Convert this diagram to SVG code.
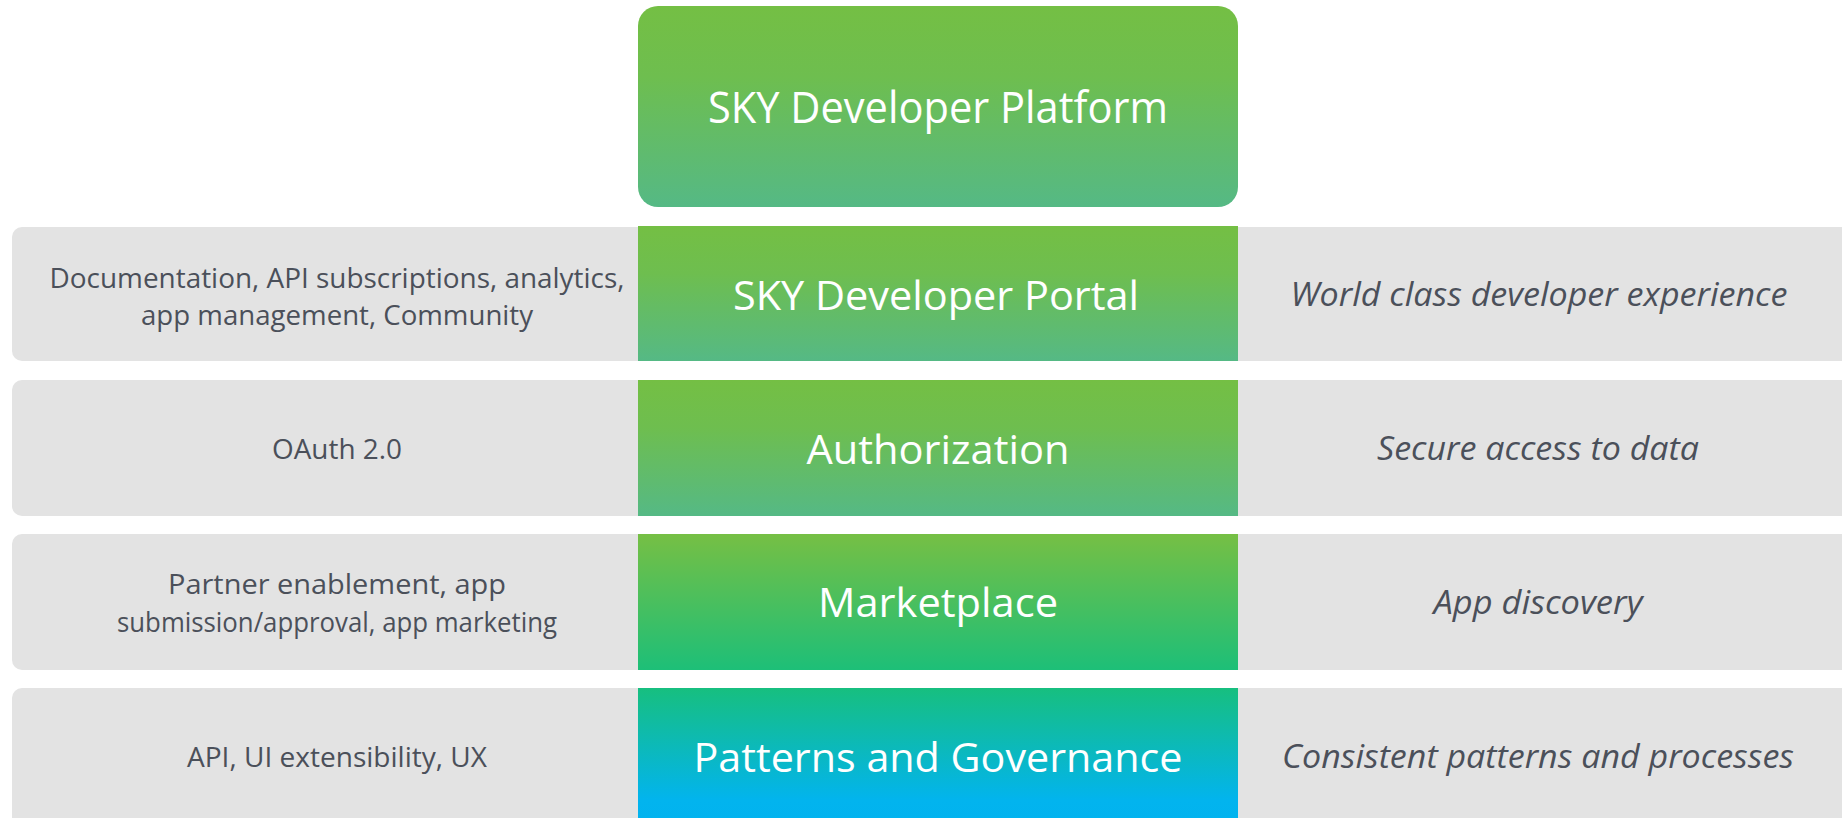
<svg xmlns="http://www.w3.org/2000/svg" width="1842" height="818" viewBox="0 0 1842 818">
  <style>
    .band { fill: #E3E3E3; }
    .lbl { font-family: "Open Sans", "Noto Sans", sans-serif; fill: #FFFFFF; text-anchor: middle; }
    .desc { font-family: "Open Sans", "Noto Sans", sans-serif; fill: #4B505A; font-size: 27px; text-anchor: middle; }
    .tag { font-family: "Open Sans", "Noto Sans", sans-serif; fill: #4B505A; font-size: 33px; font-style: italic; text-anchor: middle; }
  </style>
  <defs>
    <linearGradient id="gGreen" x1="0" y1="0" x2="0" y2="1">
      <stop offset="0" stop-color="#74BF44"/>
      <stop offset="0.35" stop-color="#6EBE4F"/>
      <stop offset="1" stop-color="#55B985"/>
    </linearGradient>
    <linearGradient id="gMarket" x1="0" y1="0" x2="0" y2="1">
      <stop offset="0" stop-color="#76BF44"/>
      <stop offset="1" stop-color="#1DBF78"/>
    </linearGradient>
    <linearGradient id="gPatterns" x1="0" y1="0" x2="0" y2="1">
      <stop offset="0" stop-color="#17BF7F"/>
      <stop offset="0.75" stop-color="#02B4EE"/>
      <stop offset="1" stop-color="#00B2F0"/>
    </linearGradient>
  </defs>

  <rect x="0" y="0" width="1842" height="818" fill="#FFFFFF"/>

  <g id="platform">
    <rect x="638" y="6" width="600" height="201" rx="20" ry="20" fill="url(#gGreen)"/>
    <text class="lbl" x="938" y="123" font-size="43" textLength="460" lengthAdjust="spacingAndGlyphs">SKY Developer Platform</text>
  </g>

  <g id="portal">
    <rect class="band" x="12" y="227" width="1860" height="134" rx="10" ry="10"/>
    <rect x="638" y="226" width="600" height="135" fill="url(#gGreen)"/>
    <text class="desc" x="337" y="288" textLength="575" lengthAdjust="spacingAndGlyphs">Documentation, API subscriptions, analytics,</text>
    <text class="desc" x="337" y="325" textLength="392" lengthAdjust="spacingAndGlyphs">app management, Community</text>
    <text class="lbl" x="936" y="310" font-size="40" textLength="406" lengthAdjust="spacingAndGlyphs">SKY Developer Portal</text>
    <text class="tag" x="1539" y="306" textLength="497" lengthAdjust="spacingAndGlyphs">World class developer experience</text>
  </g>

  <g id="authorization">
    <rect class="band" x="12" y="380" width="1860" height="136" rx="10" ry="10"/>
    <rect x="638" y="380" width="600" height="136" fill="url(#gGreen)"/>
    <text class="desc" x="337" y="459" textLength="130" lengthAdjust="spacingAndGlyphs">OAuth 2.0</text>
    <text class="lbl" x="938" y="464" font-size="40" textLength="263" lengthAdjust="spacingAndGlyphs">Authorization</text>
    <text class="tag" x="1538" y="460" textLength="322" lengthAdjust="spacingAndGlyphs">Secure access to data</text>
  </g>

  <g id="marketplace">
    <rect class="band" x="12" y="534" width="1860" height="136" rx="10" ry="10"/>
    <rect x="638" y="534" width="600" height="136" fill="url(#gMarket)"/>
    <text class="desc" x="337" y="594" textLength="338" lengthAdjust="spacingAndGlyphs">Partner enablement, app</text>
    <text class="desc" x="337" y="632" textLength="440" lengthAdjust="spacingAndGlyphs">submission/approval, app marketing</text>
    <text class="lbl" x="938" y="617" font-size="40" textLength="240" lengthAdjust="spacingAndGlyphs">Marketplace</text>
    <text class="tag" x="1538" y="614" textLength="209" lengthAdjust="spacingAndGlyphs">App discovery</text>
  </g>

  <g id="patterns">
    <rect class="band" x="12" y="688" width="1860" height="150" rx="10" ry="10"/>
    <rect x="638" y="688" width="600" height="150" fill="url(#gPatterns)"/>
    <text class="desc" x="337" y="767" textLength="300" lengthAdjust="spacingAndGlyphs">API, UI extensibility, UX</text>
    <text class="lbl" x="938" y="772" font-size="40" textLength="489" lengthAdjust="spacingAndGlyphs">Patterns and Governance</text>
    <text class="tag" x="1538" y="768" textLength="512" lengthAdjust="spacingAndGlyphs">Consistent patterns and processes</text>
  </g>

  <g id="connectors"></g>
</svg>
